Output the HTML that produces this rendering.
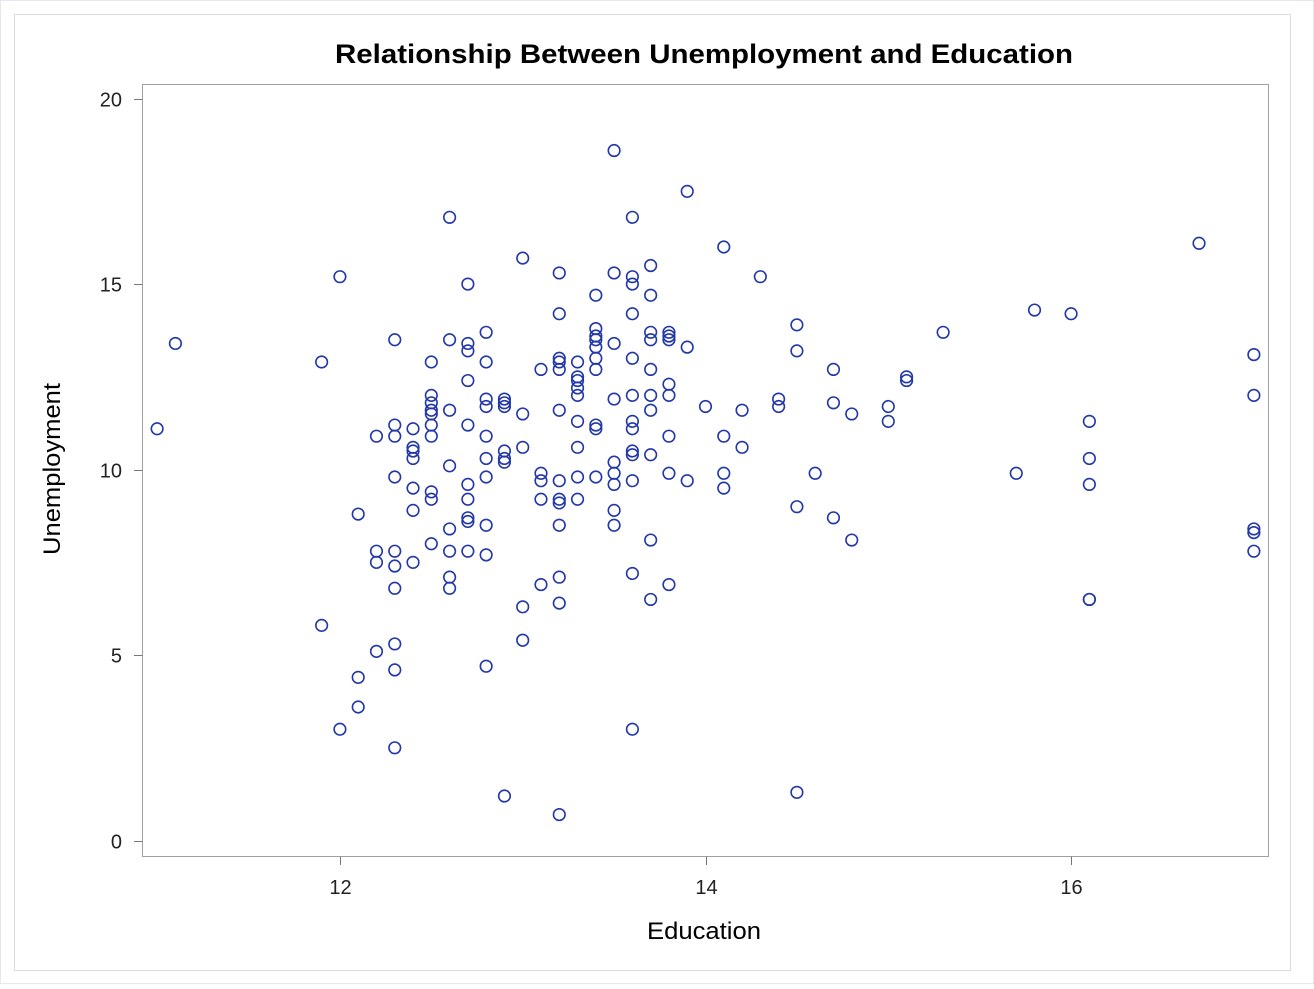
<!DOCTYPE html>
<html><head><meta charset="utf-8"><style>
html,body{margin:0;padding:0;background:#fff;}
body{width:1314px;height:984px;overflow:hidden;font-family:"Liberation Sans",sans-serif;}
</style></head><body>
<svg id="chart" width="1314" height="984" xmlns="http://www.w3.org/2000/svg">
<rect x="0.5" y="0.5" width="1313" height="983" fill="#fff" stroke="#e4e8f0"/>
<rect x="14.5" y="14.5" width="1276" height="956" fill="#fff" stroke="#d8dce4"/>
<text x="335" y="63" textLength="738" lengthAdjust="spacingAndGlyphs" font-size="27" font-weight="bold" fill="#000">Relationship Between Unemployment and Education</text>
<rect x="142.5" y="84.5" width="1126" height="772" fill="none" stroke="#a0a0a0"/>
<g id="yticks"></g><g id="xticks"></g><g id="points"></g>
<text x="647" y="939" textLength="114" lengthAdjust="spacingAndGlyphs" font-size="24" fill="#000">Education</text>
<text transform="translate(60,555) rotate(-90)" textLength="172" lengthAdjust="spacingAndGlyphs" font-size="24" fill="#000">Unemployment</text>
</svg>
<script>
const xTicks = [12, 14, 16];
const yTicks = [0, 5, 10, 15, 20];
const education = [
11.0,11.1,11.9,11.9,12.0,12.0,12.1,12.1,12.1,12.2,12.2,12.2,12.2,
12.3,12.3,12.3,12.3,12.3,12.3,12.3,12.3,12.3,12.3,
12.4,12.4,12.4,12.4,12.4,12.4,12.4,
12.5,12.5,12.5,12.5,12.5,12.5,12.5,12.5,12.5,12.5,
12.6,12.6,12.6,12.6,12.6,12.6,12.6,12.6,
12.7,12.7,12.7,12.7,12.7,12.7,12.7,12.7,12.7,12.7,
12.8,12.8,12.8,12.8,12.8,12.8,12.8,12.8,12.8,12.8,
12.9,12.9,12.9,12.9,12.9,12.9,12.9,
13.0,13.0,13.0,13.0,13.0,
13.1,13.1,13.1,13.1,13.1,
13.2,13.2,13.2,13.2,13.2,13.2,13.2,13.2,13.2,13.2,13.2,13.2,13.2,
13.3,13.3,13.3,13.3,13.3,13.3,13.3,13.3,13.3,
13.4,13.4,13.4,13.4,13.4,13.4,13.4,13.4,13.4,13.4,
13.5,13.5,13.5,13.5,13.5,13.5,13.5,13.5,13.5,
13.6,13.6,13.6,13.6,13.6,13.6,13.6,13.6,13.6,13.6,13.6,13.6,13.6,
13.7,13.7,13.7,13.7,13.7,13.7,13.7,13.7,13.7,13.7,
13.8,13.8,13.8,13.8,13.8,13.8,13.8,13.8,
13.9,13.9,13.9,14.0,14.1,14.1,14.1,14.1,14.2,14.2,14.3,14.4,14.4,
14.5,14.5,14.5,14.5,14.6,14.7,14.7,14.7,14.8,14.8,15.0,15.0,15.1,15.1,15.3,
15.7,15.8,16.0,16.1,16.1,16.1,16.1,16.1,16.7,17.0,17.0,17.0,17.0,17.0];
const unemployment = [
11.1,13.4,12.9,5.8,15.2,3.0,8.8,4.4,3.6,10.9,7.8,7.5,5.1,
13.5,11.2,10.9,9.8,7.8,7.4,6.8,5.3,4.6,2.5,
11.1,10.6,10.5,10.3,9.5,8.9,7.5,
12.9,12.0,11.8,11.6,11.5,11.2,10.9,9.4,9.2,8.0,
16.8,13.5,11.6,10.1,8.4,7.8,7.1,6.8,
15.0,13.4,13.2,12.4,11.2,9.6,9.2,8.7,8.6,7.8,
13.7,12.9,11.9,11.7,10.9,10.3,9.8,8.5,7.7,4.7,
11.9,11.8,11.7,10.5,10.3,10.2,1.2,
15.7,11.5,10.6,6.3,5.4,
12.7,9.9,9.7,9.2,6.9,
15.3,14.2,13.0,12.7,11.6,9.7,9.2,9.1,8.5,7.1,6.4,0.7,12.9,
12.5,12.4,12.2,12.0,11.3,10.6,9.8,9.2,12.9,
14.7,13.8,13.6,13.5,13.3,13.0,12.7,11.2,11.1,9.8,
18.6,15.3,13.4,11.9,10.2,9.9,9.6,8.9,8.5,
16.8,15.2,15.0,14.2,13.0,12.0,11.3,11.1,10.5,10.4,9.7,7.2,3.0,
15.5,14.7,13.7,13.5,12.7,12.0,11.6,10.4,8.1,6.5,
13.7,13.6,13.5,12.3,12.0,10.9,9.9,6.9,
17.5,13.3,9.7,11.7,16.0,10.9,9.9,9.5,11.6,10.6,15.2,11.9,11.7,
13.9,13.2,9.0,1.3,9.9,12.7,11.8,8.7,11.5,8.1,11.7,11.3,12.5,12.4,13.7,
9.9,14.3,14.2,11.3,10.3,9.6,6.5,6.5,16.1,13.1,12.0,8.4,8.3,7.8];

const X0=142.5,X1=1268.5,Y0=856.5,Y1=84.5;
const xMin=10.92,xMax=17.08,yMin=-0.43,yMax=20.38;
const sx=v=>X0+(v-xMin)/(xMax-xMin)*(X1-X0);
const sy=v=>Y0-(v-yMin)/(yMax-yMin)*(Y0-Y1);
const NS='http://www.w3.org/2000/svg';
function mk(tag,attrs,parent){const e=document.createElementNS(NS,tag);for(const k in attrs)e.setAttribute(k,attrs[k]);parent.appendChild(e);return e;}
const yg=document.getElementById('yticks'),xg=document.getElementById('xticks'),pg=document.getElementById('points');
yTicks.forEach(t=>{const y=Math.round(sy(t))+0.5;
 const l=mk('line',{x1:134,x2:142.5,y1:y,y2:y,stroke:'#777'},yg);
 
 
 const tx=mk('text',{x:122,y:y+7,'text-anchor':'end','font-size':20,fill:'#222'},yg);tx.textContent=t;
 
 
});
xTicks.forEach(t=>{const x=Math.round(sx(t))+0.5;
 const l=mk('line',{x1:x,x2:x,y1:856.5,y2:865,stroke:'#777'},xg);
 
 
 const tx=mk('text',{x:x,y:894,'text-anchor':'middle','font-size':20,fill:'#222'},xg);tx.textContent=t;
 
 
});
education.forEach((e,i)=>{
 const c=mk('circle',{cx:sx(e),cy:sy(unemployment[i]),r:5.8,fill:'none',stroke:'#2338a8','stroke-width':1.6},pg);
 
 
});
</script>
</body></html>
